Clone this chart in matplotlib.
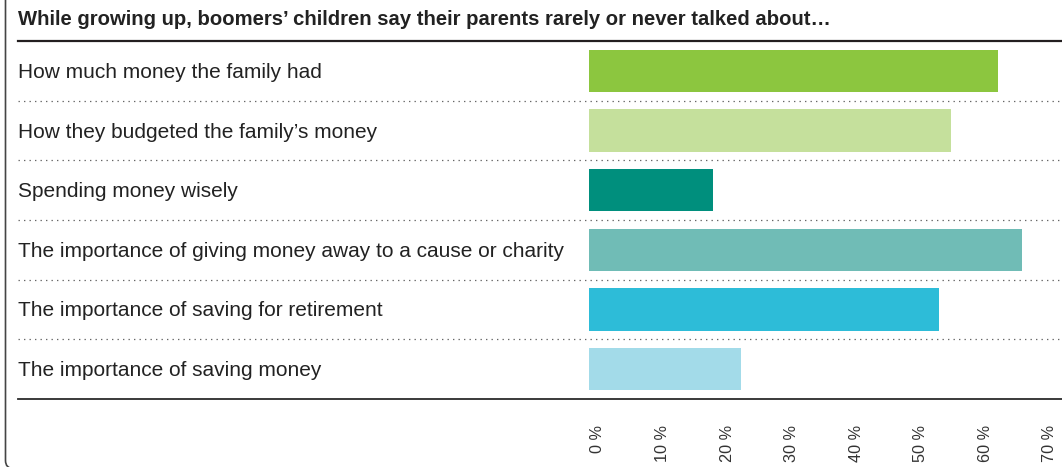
import matplotlib
matplotlib.use("Agg")
import matplotlib.pyplot as plt
from matplotlib.patches import FancyBboxPatch
from matplotlib.transforms import IdentityTransform, ScaledTranslation

# Data
title = "While growing up, boomers\u2019 children say their parents rarely or never talked about\u2026"
categories = [
    "How much money the family had",
    "How they budgeted the family\u2019s money",
    "Spending money wisely",
    "The importance of giving money away to a cause or charity",
    "The importance of saving for retirement",
    "The importance of saving money",
]
values = [63.4, 56.1, 19.2, 67.1, 54.2, 23.5]
colors = ["#8cc63f", "#c5e09c", "#008f7d", "#70bcb6", "#2dbcd8", "#a3dbe9"]
ticks = [0, 10, 20, 30, 40, 50, 60, 70]
tick_labels = ["0 %", "10 %", "20 %", "30 %", "40 %", "50 %", "60 %", "70 %"]

W, H, DPI = 1062, 467, 100
fig = plt.figure(figsize=(W / DPI, H / DPI), dpi=DPI)

# axes spans label column + bar area; value 0 sits at x=589px
left_px, right_px, top_px, bot_px = 18, 1062, 41, 399
zero_px = 589
px_per_unit = 6.457
ax = fig.add_axes([left_px / W, 1 - bot_px / H, (right_px - left_px) / W, (bot_px - top_px) / H])
ax.set_xlim(-(zero_px - left_px) / px_per_unit, (right_px - zero_px) / px_per_unit)
ax.set_ylim(len(categories) - 0.5, -0.5)

ypos = list(range(len(categories)))
ax.barh(ypos, values, height=0.715, color=colors, zorder=2)

for s in ax.spines.values():
    s.set_visible(False)
ax.set_xticks([])
ax.set_yticks([])

# row separators
for i in range(len(categories) - 1):
    ax.axhline(i + 0.5, color="#666666", lw=0.9, dashes=(1.1, 3.3), zorder=1)
ax.axhline(-0.5, color="#231f20", lw=1.6, clip_on=False)
ax.axhline(len(categories) - 0.5, color="#2b2b2b", lw=1.3, clip_on=False)

# category labels
ytrans = ax.get_yaxis_transform() + ScaledTranslation(0, -1.5 / DPI, fig.dpi_scale_trans)
for y, c in zip(ypos, categories):
    ax.text(0, y, c, transform=ytrans, ha="left", va="center",
            fontsize=15.05, color="#222222", family="Liberation Sans")

# rotated tick labels
xtrans = ax.get_xaxis_transform() + ScaledTranslation(9 / DPI, -26 / DPI, fig.dpi_scale_trans)
for t, lab in zip(ticks, tick_labels):
    ax.text(t, 0, lab, transform=xtrans, rotation=90, ha="center", va="top",
            fontsize=11.7, color="#333333", family="Liberation Sans", clip_on=False)

fig.text(left_px / W, 1 - 19.5 / H, title, ha="left", va="center", fontsize=14.6,
         fontweight="bold", color="#222222", family="Liberation Sans")

# rounded frame on the left, bottom edge falls just outside the image
frame = FancyBboxPatch((5.5, -1.5), 3000, 2000, boxstyle="round,pad=0,rounding_size=8",
                       transform=IdentityTransform(), facecolor="none",
                       edgecolor="#444444", lw=1.2, clip_on=False)
fig.add_artist(frame)

fig.savefig("out.png", dpi=DPI)
